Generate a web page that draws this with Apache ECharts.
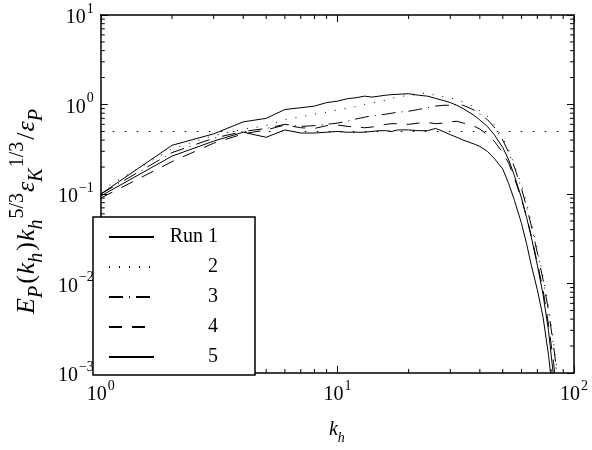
<!DOCTYPE html>
<html>
<head>
<meta charset="utf-8">
<script src="https://cdn.jsdelivr.net/npm/echarts@6/dist/echarts.min.js"></script>
<style>
  html, body { margin: 0; padding: 0; background: #fff; }
  #main { width: 592px; height: 450px; }
</style>
</head>
<body>
<div id="main"></div>
<script>
// horizontal wavenumbers shared by all runs
const kh = [1, 2, 3, 4, 5, 6, 7, 8, 9, 10, 11, 12, 13, 14, 15, 16, 17, 18, 20, 22,
  24, 26, 28, 30, 32, 34, 36, 38, 40, 43, 46, 50, 53, 56, 60, 63, 66, 70, 74, 78, 82, 86];

// compensated spectra
const run1 = [0.10, 0.35, 0.47, 0.64, 0.70, 0.88, 0.92, 0.96, 1.05, 1.09, 1.16, 1.19, 1.24, 1.21, 1.24, 1.27, 1.29, 1.30, 1.32, 1.27,
  1.24, 1.17, 1.11, 1.05, 0.98, 0.90, 0.82, 0.75, 0.67, 0.57, 0.46, 0.33, 0.24, 0.16, 0.09, 0.055, 0.033, 0.016, 0.0075, 0.003, 0.0009, 0.0003];
const run2 = [0.11, 0.32, 0.45, 0.53, 0.58, 0.68, 0.73, 0.78, 0.82, 0.87, 0.91, 0.95, 1.00, 1.04, 1.08, 1.11, 1.17, 1.22, 1.26, 1.30,
  1.36, 1.25, 1.22, 1.20, 1.12, 1.07, 1.00, 0.93, 0.85, 0.74, 0.60, 0.42, 0.31, 0.21, 0.125, 0.08, 0.048, 0.024, 0.012, 0.0055, 0.0022, 0.0008];
const run3 = [0.10, 0.29, 0.42, 0.50, 0.54, 0.60, 0.57, 0.58, 0.60, 0.62, 0.65, 0.69, 0.72, 0.75, 0.76, 0.78, 0.80, 0.82, 0.84, 0.88,
  0.92, 0.96, 0.98, 0.98, 1.00, 0.98, 0.92, 0.86, 0.78, 0.68, 0.56, 0.40, 0.29, 0.20, 0.115, 0.072, 0.044, 0.022, 0.011, 0.005, 0.002, 0.0007];
const run4 = [0.09, 0.23, 0.37, 0.47, 0.52, 0.59, 0.55, 0.54, 0.58, 0.59, 0.57, 0.56, 0.55, 0.56, 0.58, 0.60, 0.61, 0.61, 0.60, 0.62,
  0.63, 0.61, 0.62, 0.64, 0.65, 0.62, 0.60, 0.57, 0.53, 0.46, 0.39, 0.29, 0.22, 0.15, 0.088, 0.056, 0.034, 0.017, 0.0085, 0.0035, 0.0013, 0.0004];
const run5 = [0.095, 0.265, 0.39, 0.49, 0.43, 0.52, 0.48, 0.48, 0.49, 0.50, 0.49, 0.49, 0.49, 0.50, 0.51, 0.51, 0.50, 0.52, 0.52, 0.51,
  0.51, 0.54, 0.50, 0.46, 0.43, 0.40, 0.38, 0.36, 0.34, 0.30, 0.25, 0.19, 0.13, 0.085, 0.047, 0.028, 0.016, 0.0085, 0.0042, 0.0016, 0.0005, 0.0002];

const runNames = ['Run 1', '2', '3', '4', '5'];
const refLevel = 0.5;

// minor tick positions (log axes)
const xMinorTicks = [2, 3, 4, 5, 6, 7, 8, 9, 20, 30, 40, 50, 60, 70, 80, 90];
const yMinorTicks = [0.002, 0.003, 0.004, 0.005, 0.006, 0.007, 0.008, 0.009,
  0.02, 0.03, 0.04, 0.05, 0.06, 0.07, 0.08, 0.09,
  0.2, 0.3, 0.4, 0.5, 0.6, 0.7, 0.8, 0.9,
  2, 3, 4, 5, 6, 7, 8, 9];

const FONT = "'Liberation Serif', 'DejaVu Serif', serif";

function pairs(ys) {
  return kh.map((k, i) => [k, ys[i]]);
}

function powLabel(v) {
  const e = Math.round(Math.log10(v));
  return '{b|10}{s|' + (e < 0 ? '\u2212' + (-e) : e) + '}';
}

const powRich = {
  b: { fontFamily: FONT, fontSize: 20, color: '#000', lineHeight: 26, verticalAlign: 'bottom' },
  s: { fontFamily: FONT, fontSize: 14, color: '#000', lineHeight: 26, verticalAlign: 'top', padding: [0, 0, 0, 1] }
};

// rich styles for TeX-like axis names
function mathRich(size, small) {
  const lh = Math.round(size * 1.5);
  return {
    i: { fontFamily: FONT, fontSize: size, fontStyle: 'italic', color: '#000', lineHeight: lh, verticalAlign: 'middle' },
    n: { fontFamily: FONT, fontSize: size, color: '#000', lineHeight: lh, verticalAlign: 'middle', padding: [0, 1, 0, 1] },
    sub: { fontFamily: FONT, fontSize: small, fontStyle: 'italic', color: '#000', lineHeight: lh, verticalAlign: 'bottom', padding: [0, 1, 0, 0] },
    sup: { fontFamily: FONT, fontSize: small, color: '#000', lineHeight: lh, verticalAlign: 'top', padding: [0, 1, 0, 0] }
  };
}

const frameLine = { color: '#000', width: 1.5 };

let myChart = echarts.init(document.getElementById('main'));

const lineSeries = [
  { name: runNames[0], data: pairs(run1), dash: 'solid' },
  { name: runNames[1], data: pairs(run2), dash: [1, 9] },
  { name: runNames[2], data: pairs(run3), dash: [14, 6, 1, 6] },
  { name: runNames[3], data: pairs(run4), dash: [13, 10] },
  { name: runNames[4], data: pairs(run5), dash: 'solid' }
].map(s => ({
  name: s.name,
  type: 'line',
  data: s.data,
  symbol: 'none',
  showSymbol: false,
  animation: false,
  clip: true,
  xAxisIndex: 0,
  yAxisIndex: 0,
  lineStyle: { color: '#000', width: 1, type: s.dash },
  itemStyle: { color: '#000' },
  z: 3
}));

// dotted reference level
lineSeries[0].markLine = {
  silent: true,
  symbol: 'none',
  label: { show: false },
  lineStyle: { color: '#000', width: 1, type: [1.5, 10.5] },
  data: [{ yAxis: refLevel }]
};

myChart.setOption({
  animation: false,
  backgroundColor: '#fff',
  textStyle: { fontFamily: FONT, color: '#000' },
  grid: { left: 85, right: 18, top: 15, bottom: 67 },
  legend: {
    data: runNames,
    orient: 'vertical',
    left: 93,
    top: 217,
    padding: [10, 37, 8, 15],
    itemWidth: 45,
    itemHeight: 20,
    itemGap: 10,
    backgroundColor: '#fff',
    borderColor: '#000',
    borderWidth: 1.5,
    borderRadius: 0,
    selectedMode: false,
    itemStyle: { opacity: 0 },
    formatter: name => '{t|' + name + '}',
    textStyle: {
      fontFamily: FONT,
      rich: {
        t: { fontFamily: FONT, fontSize: 20, color: '#000', width: 59, lineHeight: 20, align: 'right' }
      }
    },
    z: 10
  },
  xAxis: [
    {
      type: 'log', logBase: 10, min: 1, max: 100,
      position: 'bottom',
      axisLine: { lineStyle: frameLine },
      axisTick: { inside: true, length: 7, lineStyle: { color: '#000', width: 1 } },
      splitLine: { show: false },
      axisLabel: { formatter: powLabel, rich: powRich, margin: 6, fontFamily: FONT },
      name: '{i|k}{sub|h}',
      nameLocation: 'middle',
      nameGap: 42,
      nameTextStyle: { rich: mathRich(20, 14), fontFamily: FONT }
    },
    {
      type: 'log', logBase: 10, min: 1, max: 100,
      position: 'top',
      axisLine: { lineStyle: frameLine },
      axisTick: { inside: true, length: 7, lineStyle: { color: '#000', width: 1 } },
      splitLine: { show: false },
      axisLabel: { show: false }
    }
  ],
  yAxis: [
    {
      type: 'log', logBase: 10, min: 0.001, max: 10,
      position: 'left',
      axisLine: { show: true, lineStyle: frameLine },
      axisTick: { show: true, inside: true, length: 7, lineStyle: { color: '#000', width: 1 } },
      splitLine: { show: false },
      axisLabel: { formatter: powLabel, rich: powRich, margin: 7, fontFamily: FONT },
      name: '{i|E}{sub|P}{n|(}{i|k}{sub|h}{n|)}{i|k}{sub|h}{sup|5/3}{i|\u03b5}{sub|K}{sup|1/3}{n|/}{i|\u03b5}{sub|P}',
      nameLocation: 'middle',
      nameGap: 37,
      nameTextStyle: { rich: mathRich(26, 20), fontFamily: FONT, padding: [0, 34, 0, 0] }
    },
    {
      type: 'log', logBase: 10, min: 0.001, max: 10,
      position: 'right',
      axisLine: { show: true, lineStyle: frameLine },
      axisTick: { show: true, inside: true, length: 7, lineStyle: { color: '#000', width: 1 } },
      splitLine: { show: false },
      axisLabel: { show: false }
    }
  ],
  series: lineSeries.concat([
    {
      // minor ticks on bottom and top edges
      type: 'custom',
      silent: true,
      xAxisIndex: 0,
      yAxisIndex: 0,
      data: xMinorTicks.map(v => [v, 1]),
      renderItem: function (params, api) {
        const cs = params.coordSys;
        const x = api.coord([api.value(0), 1])[0];
        const st = { stroke: '#000', lineWidth: 1 };
        return {
          type: 'group',
          children: [
            { type: 'line', shape: { x1: x, y1: cs.y + cs.height, x2: x, y2: cs.y + cs.height - 4 }, style: st },
            { type: 'line', shape: { x1: x, y1: cs.y, x2: x, y2: cs.y + 4 }, style: st }
          ]
        };
      },
      z: 4
    },
    {
      // minor ticks on left and right edges
      type: 'custom',
      silent: true,
      xAxisIndex: 0,
      yAxisIndex: 0,
      data: yMinorTicks.map(v => [1, v]),
      renderItem: function (params, api) {
        const cs = params.coordSys;
        const y = api.coord([1, api.value(1)])[1];
        const st = { stroke: '#000', lineWidth: 1 };
        return {
          type: 'group',
          children: [
            { type: 'line', shape: { x1: cs.x, y1: y, x2: cs.x + 4, y2: y }, style: st },
            { type: 'line', shape: { x1: cs.x + cs.width, y1: y, x2: cs.x + cs.width - 4, y2: y }, style: st }
          ]
        };
      },
      z: 4
    }
  ])
});
</script>
</body>
</html>
